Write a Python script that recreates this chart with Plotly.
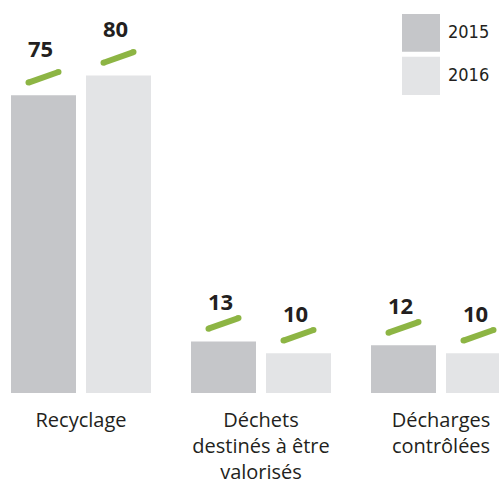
import plotly.graph_objects as go

# Waste treatment shares (%) by destination
categories = ["Recyclage", "Déchets<br>destinés à être<br>valorisés", "Décharges<br>contrôlées"]
years = ["2015", "2016"]
values_2015 = [75, 13, 12]
values_2016 = [80, 10, 10]

# Styling
COL_2015 = "#C5C6C9"
COL_2016 = "#E3E4E6"
GREEN = "#8DB544"
TEXT = "#231F20"
NARROW = "Liberation Sans Narrow, DejaVu Sans Condensed, Roboto Condensed, Arial Narrow, Liberation Sans, sans-serif"
PX_PER_X = 180.0          # pixels per category step
BAR_W = 65 / PX_PER_X
OFFSETS = [-70 / PX_PER_X, 5 / PX_PER_X]
LABEL_LIFT = [47, 40, 40]  # label lift above bar top, per category (px)
TICK_LIFT = 18             # green tick centre above bar top (px)

x_pos = list(range(len(categories)))
series = [values_2015, values_2016]
colors = [COL_2015, COL_2016]

fig = go.Figure()
for name, vals, col, off in zip(years, series, colors, OFFSETS):
    fig.add_trace(go.Bar(
        x=x_pos, y=vals, name=name, width=BAR_W, offset=off,
        marker=dict(color=col, line=dict(width=0)),
        showlegend=False, hoverinfo="skip",
    ))

shapes = []
annotations = []
for vals, off in zip(series, OFFSETS):
    for i, v in enumerate(vals):
        xc = i + off + BAR_W / 2
        # green slanted tick with rounded ends
        hx, hy = 15, 5.3
        yc = TICK_LIFT
        shapes.append(dict(
            type="line", xref="x", yref="y",
            xsizemode="pixel", ysizemode="pixel", xanchor=xc, yanchor=v,
            x0=-hx, x1=hx, y0=yc - hy, y1=yc + hy,
            line=dict(color=GREEN, width=6), layer="above",
        ))
        for ex, ey in ((-hx, yc - hy), (hx, yc + hy)):
            shapes.append(dict(
                type="circle", xref="x", yref="y",
                xsizemode="pixel", ysizemode="pixel", xanchor=xc, yanchor=v,
                x0=ex - 3, x1=ex + 3, y0=ey - 3, y1=ey + 3,
                fillcolor=GREEN, line=dict(width=0), layer="above",
            ))
        annotations.append(dict(
            x=xc, y=v, xref="x", yref="y", text=f"<b>{v}</b>",
            showarrow=False, xanchor="center", yanchor="middle",
            xshift=-3, yshift=LABEL_LIFT[i],
            font=dict(family="Open Sans", size=22, color=TEXT),
        ))

# Legend: large swatches with condensed year labels
legend_rows = [(14, 51.7), (56.7, 95)]
for (top, bottom), name, col in zip(legend_rows, years, colors):
    shapes.append(dict(
        type="rect", xref="paper", yref="paper",
        x0=402 / 499, x1=440 / 499, y0=1 - bottom / 393, y1=1 - top / 393,
        fillcolor=col, line=dict(width=0),
    ))
    annotations.append(dict(
        x=446 / 499, y=1 - (top + bottom) / 2 / 393 + 0.003, xref="paper", yref="paper",
        text=name, showarrow=False, xanchor="left", yanchor="middle",
        font=dict(family=NARROW, size=18, color=TEXT),
    ))

fig.update_layout(
    width=499, height=485,
    margin=dict(l=0, r=0, t=0, b=92, pad=0, autoexpand=False),
    paper_bgcolor="white", plot_bgcolor="white",
    barmode="overlay",
    shapes=shapes, annotations=annotations,
    xaxis=dict(
        range=[-81 / PX_PER_X, 418 / PX_PER_X],
        tickvals=x_pos, ticktext=categories,
        showgrid=False, zeroline=False, showline=False, ticks="",
        tickfont=dict(family="Open Sans", size=20, color=TEXT),
        ticklabelstandoff=13, automargin=False,
        fixedrange=True,
    ),
    yaxis=dict(range=[0, 99], visible=False, fixedrange=True, automargin=False),
)

fig.write_html("out.html")
